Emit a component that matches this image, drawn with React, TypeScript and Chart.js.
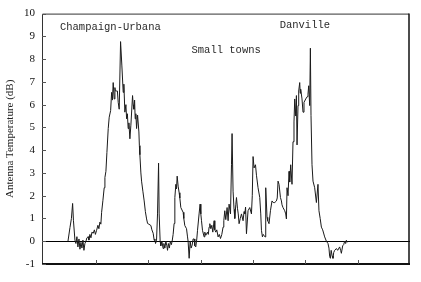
import React, { useEffect, useRef } from "react";
import { Chart, registerables } from "chart.js";

Chart.register(...registerables);

// Distance along the drive (arbitrary units, ticks every 10)
const distance: number[] = [
  4.66, 5.04, 5.32, 5.55, 5.71, 5.99, 6.18, 6.37, 6.56, 6.76, 6.95, 7.14, 7.33, 7.52, 7.71, 7.9, 8.09, 8.28, 8.53, 8.66,
  8.85, 9.05, 9.24, 9.48, 9.71, 9.9, 10.13, 10.38, 10.57, 10.76, 10.95, 11.09, 11.34, 11.58, 11.72, 11.91, 12.1, 12.35, 12.54, 12.81,
  13.0, 13.15, 13.3, 13.49, 13.63, 13.72, 13.95, 14.1, 14.26, 14.45, 14.71, 14.96, 15.21, 15.34, 15.53, 15.73, 15.86, 16.01, 16.16, 16.3,
  16.49, 16.68, 17.0, 17.12, 17.25, 17.39, 17.5, 17.63, 17.77, 17.96, 18.21, 18.3, 18.4, 18.59, 18.72, 18.97, 19.22, 19.45, 19.68, 19.87,
  20.11, 20.5, 20.69, 20.94, 21.13, 21.26, 21.39, 21.58, 21.77, 21.97, 22.08, 22.27, 22.4, 22.6, 22.84, 22.98, 23.17, 23.36, 23.55, 23.68,
  23.84, 24.03, 24.22, 24.41, 24.56, 24.75, 24.94, 25.08, 25.27, 25.4, 25.52, 25.71, 25.9, 26.03, 26.22, 26.66, 26.79, 26.98, 27.31, 27.5,
  27.61, 27.81, 28.0, 28.19, 28.38, 28.57, 28.76, 28.89, 29.08, 29.27, 29.41, 29.71, 29.9, 30.04, 30.17, 30.36, 30.67, 30.8, 30.99, 31.32,
  31.47, 31.62, 31.76, 31.95, 32.14, 32.33, 32.58, 32.71, 32.9, 33.09, 33.34, 33.57, 33.8, 34.05, 34.29, 34.43, 34.62, 34.81, 35.06, 35.25,
  35.44, 35.71, 35.9, 36.01, 36.2, 36.39, 36.53, 36.72, 36.85, 37.04, 37.19, 37.35, 37.58, 37.81, 38.11, 38.3, 38.44, 38.59, 38.76, 39.06,
  39.39, 39.71, 39.87, 40.02, 40.21, 40.48, 40.67, 40.97, 41.3, 41.49, 41.62, 41.81, 41.97, 42.12, 42.31, 42.44, 42.69, 42.82, 43.07, 43.34,
  43.64, 43.87, 44.16, 44.48, 44.64, 44.79, 44.98, 45.25, 45.44, 45.55, 45.74, 46.07, 46.26, 46.39, 46.51, 46.7, 46.89, 47.02, 47.21, 47.46,
  47.65, 47.84, 47.98, 48.17, 48.3, 48.42, 48.61, 48.74, 48.93, 49.03, 49.12, 49.37, 49.56, 49.75, 50.08, 50.36, 50.51, 50.65, 50.84, 50.97,
  51.09, 51.28, 51.47, 51.79, 52.12, 52.42, 52.61, 52.84, 53.07, 53.32, 53.7, 54.03, 54.33, 54.52, 54.66, 54.79, 54.94, 55.13, 55.29, 55.42,
  55.61, 55.94, 56.18, 56.56, 56.75, 56.89, 57.14, 57.33, 57.52, 57.71, 57.84, 58.0,
];

// Antenna temperature (dB)
const temperature: number[] = [
  0.0, 0.6, 1.0, 1.66, 0.9, 0.05, -0.1, 0.2, -0.25, 0.1, -0.35, -0.05, -0.3, 0.05, -0.4, -0.1, 0.0, 0.15, 0.2, 0.05,
  0.3, 0.15, 0.4, 0.35, 0.5, 0.3, 0.48, 0.7, 0.55, 0.84, 0.75, 1.27, 1.8, 2.35, 2.8, 3.07, 3.9, 4.95, 5.45, 5.74,
  6.54, 6.2, 6.97, 6.25, 6.75, 6.6, 6.6, 6.6, 6.1, 5.8, 8.77, 7.7, 6.54, 6.9, 5.67, 6.0, 5.38, 5.6, 4.95, 5.2,
  4.5, 5.1, 6.4, 6.0, 5.8, 6.2, 5.38, 5.6, 4.95, 5.54, 4.8, 4.2, 3.8, 3.0, 2.64, 2.2, 1.77, 1.3, 0.98, 0.78,
  0.75, 0.69, 0.5, 0.35, 0.04, 0.1, -0.1, 0.04, 1.2, 3.43, 1.2, 0.0, -0.2, 0.0, -0.32, -0.1, -0.3, 0.0, -0.2, -0.4,
  -0.1, -0.3, 0.0, -0.15, 0.0, 0.3, 0.78, 1.92, 2.5, 2.3, 2.86, 2.42, 2.13, 1.9, 1.48, 1.27, 1.0, 0.69, 0.55, 0.19,
  0.0, -0.75, 0.0, -0.3, -0.17, 0.1, 0.1, -0.2, -0.25, 0.1, 0.48, 1.2, 1.63, 1.2, 0.9, 0.48, 0.19, 0.4, 0.26, 0.4,
  0.3, 0.62, 0.77, 0.55, 0.7, 0.4, 0.9, 0.5, 0.4, 0.5, 0.19, 0.3, 0.12, 0.3, 0.62, 0.9, 1.34, 0.95, 1.48, 0.9,
  1.63, 1.2, 3.36, 4.73, 2.2, 1.4, 1.0, 1.6, 1.92, 1.45, 1.2, 0.77, 1.0, 1.2, 0.9, 1.3, 1.2, 1.5, 0.33, 1.34,
  1.48, 1.2, 2.0, 3.72, 3.22, 3.36, 2.9, 2.35, 1.92, 1.2, 0.48, 0.19, 0.3, 0.25, 0.19, 2.35, 1.05, 0.9, 0.77, 1.34,
  1.77, 1.7, 1.7, 1.77, 1.9, 2.64, 2.5, 1.92, 1.77, 1.6, 1.48, 1.34, 1.2, 0.98, 2.35, 2.0, 3.07, 2.6, 3.36, 2.5,
  4.37, 5.24, 6.25, 5.5, 6.4, 4.23, 5.96, 6.6, 6.97, 6.5, 6.68, 6.25, 5.67, 6.1, 6.25, 6.35, 6.46, 6.83, 5.96, 8.48,
  5.53, 3.36, 2.64, 2.35, 1.7, 2.5, 1.34, 1.0, 0.62, 0.5, 0.19, 0.0, -0.1, -0.3, -0.68, -0.75, -0.4, -0.65, -0.75, -0.5,
  -0.4, -0.32, -0.4, -0.25, -0.4, -0.53, -0.2, -0.15, 0.0, -0.1, 0.04, -0.05,
];

const yTicks: number[] = [-1, 0, 1, 2, 3, 4, 5, 6, 7, 8, 9, 10];
const xTicks: number[] = [10, 20, 30, 40, 50, 60];

const labelTexts: string[] = ["Champaign-Urbana", "Small towns", "Danville"];
const labelX: number[] = [3.13, 28.26, 45.1];
const labelY: number[] = [9.26, 8.27, 9.35];

const overlayPlugin = {
  id: "overlay",
  afterDraw(chart: any) {
    const { ctx, chartArea: a, scales } = chart;
    const x = scales.x;
    const y = scales.y;
    ctx.save();
    // frame
    ctx.strokeStyle = "#333";
    ctx.lineWidth = 1;
    ctx.beginPath();
    ctx.moveTo(a.left + 0.5, a.bottom);
    ctx.lineTo(a.left + 0.5, a.top + 0.5);
    ctx.lineTo(a.right - 1, a.top + 0.5);
    ctx.stroke();
    ctx.strokeStyle = "#111";
    ctx.lineWidth = 1.5;
    ctx.beginPath();
    ctx.moveTo(a.right - 1, a.top);
    ctx.lineTo(a.right - 1, a.bottom);
    ctx.stroke();
    ctx.lineWidth = 2;
    ctx.beginPath();
    ctx.moveTo(a.left, a.bottom);
    ctx.lineTo(a.right, a.bottom);
    ctx.stroke();
    // inside tick marks
    ctx.lineWidth = 1;
    ctx.strokeStyle = "#555";
    ctx.beginPath();
    yTicks.forEach((v) => {
      const py = Math.round(y.getPixelForValue(v)) + 0.5;
      ctx.moveTo(a.left, py);
      ctx.lineTo(a.left + 4, py);
    });
    xTicks.forEach((v) => {
      const px = Math.round(x.getPixelForValue(v)) + 0.5;
      ctx.moveTo(px, a.bottom);
      ctx.lineTo(px, a.bottom - 4);
    });
    ctx.stroke();
    // annotations
    ctx.fillStyle = "#2a2a2a";
    ctx.font = "10.5px 'Liberation Mono', 'DejaVu Sans Mono', monospace";
    ctx.textAlign = "left";
    ctx.textBaseline = "alphabetic";
    labelTexts.forEach((t, i) => {
      ctx.fillText(t, x.getPixelForValue(labelX[i]), y.getPixelForValue(labelY[i]));
    });
    ctx.restore();
  },
};

export default function App() {
  const canvasRef = useRef<HTMLCanvasElement | null>(null);

  useEffect(() => {
    if (!canvasRef.current) return;
    const points = distance.map((d, i) => ({ x: d, y: temperature[i] }));
    const chart = new Chart(canvasRef.current, {
      type: "line",
      data: {
        datasets: [
          {
            label: "Antenna Temperature",
            data: points,
            borderColor: "#1a1a1a",
            borderWidth: 1,
            pointRadius: 0,
            tension: 0,
            fill: false,
          },
        ],
      },
      options: {
        animation: false,
        responsive: false,
        layout: { padding: { top: 10, right: 11, left: 0, bottom: 18 } },
        plugins: {
          legend: { display: false },
          tooltip: { enabled: false },
        },
        scales: {
          x: {
            type: "linear",
            min: -0.3,
            max: 70,
            display: false,
          },
          y: {
            type: "linear",
            min: -1,
            max: 10,
            afterFit: (scale: any) => {
              scale.width = 42;
            },
            border: { display: false },
            grid: {
              drawTicks: false,
              color: (c: any) => (c.tick && c.tick.value === 0 ? "#000" : "rgba(0,0,0,0)"),
              lineWidth: 1,
            },
            ticks: {
              stepSize: 1,
              padding: 7,
              color: "#111",
              font: { family: "'Liberation Serif', 'DejaVu Serif', serif", size: 11 },
            },
            title: {
              display: true,
              text: "Antenna Temperature (dB)",
              color: "#222",
              font: { family: "'Liberation Serif', 'DejaVu Serif', serif", size: 11 },
              padding: { top: 4, bottom: 0 },
            },
          },
        },
      },
      plugins: [overlayPlugin],
    });
    return () => chart.destroy();
  }, []);

  return (
    <div style={{ position: "absolute", left: 0, top: 0, width: 421, height: 282, background: "#fff" }}>
      <canvas ref={canvasRef} width={421} height={282} style={{ display: "block" }} />
    </div>
  );
}
